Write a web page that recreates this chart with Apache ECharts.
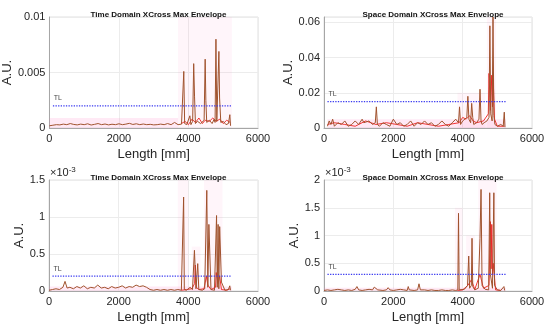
<!DOCTYPE html>
<html>
<head>
<meta charset="utf-8">
<script src="https://cdn.jsdelivr.net/npm/echarts@6/dist/echarts.min.js"></script>
<style>html,body{margin:0;padding:0;background:#fff}#c{width:550px;height:330px}</style>
</head>
<body>
<div id="c"></div>
<script>
// ---------- DATA ----------
const titles = ['Time Domain XCross Max Envelope','Space Domain XCross Max Envelope','Time Domain XCross Max Envelope','Space Domain XCross Max Envelope'];
const xTicks = [0, 2000, 4000, 6000];
const yMax = [0.01, 0.063, 1.5, 2];           // panels 3,4 in units of 1e-3
const yInterval = [0.005, 0.02, 0.5, 0.5];
const tlLevel = [0.002, 0.015, 0.2, 0.3];     // TL threshold per panel
const tlLen = [100, 5250];

// Panel 1: time domain (A.U.)
const p1Len = [0,100,200,300,400,500,600,700,800,900,1000,1100,1200,1300,1400,1500,1600,1700,1800,1900,2000,2100,2200,2300,2400,2500,2600,2700,2800,2900,3000,3100,3200,3300,3400,3500,3600,3700,3800,3840,3865,3890,3950,4040,4070,4120,4150,4175,4200,4260,4350,4450,4480,4500,4525,4600,4680,4740,4765,4790,4815,4850,4875,4895,4930,5000,5080,5150,5190,5210];
const p1Val = [0.0002,0.00025,0.0003,0.00028,0.00035,0.0003,0.0004,0.00032,0.00028,0.00035,0.0003,0.00038,0.00027,0.00033,0.0004,0.0003,0.00036,0.00028,0.00034,0.0003,0.00038,0.0003,0.00035,0.00042,0.00032,0.00038,0.0003,0.00036,0.0003,0.00033,0.00028,0.0003,0.00035,0.0003,0.0004,0.0003,0.0005,0.0003,0.00035,0.0004,0.0051,0.0004,0.0003,0.0011,0.0003,0.0006,0.0058,0.0028,0.0004,0.0006,0.0004,0.0007,0.0062,0.0025,0.0005,0.0007,0.0004,0.0008,0.0005,0.008,0.0006,0.0007,0.0069,0.0027,0.0005,0.0006,0.0003,0.0004,0.0012,0.0002];
const p1RedLen = [3800,3900,4000,4100,4200,4300,4400,4480,4600,4700,4800,4900,5000,5100,5200];
const p1RedVal = [0.0004,0.0006,0.0003,0.0008,0.0005,0.0009,0.0004,0.0007,0.0006,0.0009,0.0006,0.0008,0.0004,0.0007,0.0005];

// Panel 2: space domain (A.U.)
const p2Len = [100,150,200,250,300,400,500,600,700,800,900,1000,1100,1150,1200,1300,1400,1480,1510,1540,1600,1700,1800,1900,2000,2100,2200,2300,2400,2500,2600,2700,2800,2900,3000,3100,3200,3300,3400,3500,3600,3700,3800,3880,3910,3940,4000,4050,4120,4150,4180,4230,4260,4290,4320,4400,4470,4500,4530,4560,4620,4700,4760,4785,4810,4850,4875,4900,4930,5000,5100,5170,5200,5220];
const p2Val = [0.001,0.004,0.002,0.005,0.001,0.003,0.002,0.004,0.001,0.002,0.004,0.002,0.005,0.003,0.002,0.004,0.002,0.003,0.012,0.002,0.001,0.003,0.002,0.001,0.005,0.002,0.003,0.001,0.002,0.004,0.001,0.003,0.002,0.004,0.002,0.003,0.001,0.002,0.004,0.002,0.001,0.003,0.005,0.003,0.012,0.002,0.004,0.003,0.006,0.018,0.005,0.003,0.014,0.006,0.002,0.003,0.005,0.022,0.004,0.002,0.003,0.004,0.006,0.058,0.008,0.004,0.063,0.007,0.002,0.001,0.002,0.001,0.009,0.0005];
const p2RedLen = [100,300,600,900,1200,1500,1800,2100,2400,2700,3000,3300,3600,3900,4000,4100,4200,4300,4400,4600,4740,4760,4800,4840,4860,4880,4920,5000,5200];
const p2RedVal = [0.002,0.003,0.002,0.001,0.004,0.002,0.003,0.002,0.001,0.003,0.002,0.001,0.002,0.003,0.006,0.005,0.007,0.004,0.003,0.004,0.008,0.031,0.01,0.03,0.012,0.028,0.005,0.001,0.001];

// Panel 3: time domain (x1e-3 A.U.)
const p3Len = [0,100,200,300,400,460,520,600,700,800,900,1000,1100,1200,1300,1400,1500,1600,1700,1800,1900,2000,2100,2200,2300,2400,2500,2600,2700,2800,2900,3000,3100,3200,3300,3400,3500,3600,3700,3800,3845,3865,3885,3950,4050,4120,4150,4175,4220,4250,4270,4300,4400,4470,4500,4530,4560,4590,4650,4750,4790,4810,4830,4855,4875,4900,4950,5050,5150,5190,5210];
const p3Val = [0.01,0.02,0.03,0.02,0.05,0.13,0.04,0.05,0.03,0.06,0.04,0.07,0.03,0.05,0.04,0.08,0.04,0.05,0.03,0.06,0.04,0.05,0.07,0.04,0.06,0.05,0.08,0.06,0.07,0.05,0.02,0.01,0.02,0.01,0.02,0.01,0.02,0.01,0.02,0.01,0.02,1.27,0.02,0.01,0.05,0.02,0.02,0.55,0.03,0.02,0.37,0.02,0.01,0.03,0.02,1.36,0.05,0.9,0.02,0.01,0.03,1.02,0.05,0.9,0.03,0.87,0.12,0.01,0.02,0.07,0.01];
const p3RedLen = [3800,3950,4100,4180,4200,4230,4300,4450,4520,4560,4650,4780,4800,4850,4900,4950,5100,5200];
const p3RedVal = [0.01,0.02,0.03,0.1,0.35,0.05,0.02,0.03,0.2,0.08,0.02,0.05,0.25,0.1,0.2,0.02,0.01,0.03];

// Panel 4: space domain (x1e-3 A.U.)
const p4Len = [0,100,200,300,400,500,600,700,800,900,950,1000,1100,1200,1300,1400,1450,1500,1550,1600,1700,1800,1850,1900,2000,2100,2200,2300,2400,2430,2460,2500,2600,2700,2740,2780,2800,2900,3000,3100,3200,3300,3400,3500,3600,3700,3800,3860,3880,3900,3950,4050,4140,4175,4200,4250,4270,4290,4350,4450,4500,4530,4560,4650,4750,4780,4800,4860,4900,4920,5000,5100,5190,5210];
const p4Val = [0.01,0.02,0.01,0.02,0.03,0.02,0.01,0.02,0.01,0.03,0.08,0.02,0.01,0.02,0.03,0.02,0.07,0.1,0.02,0.03,0.01,0.02,0.06,0.02,0.01,0.02,0.03,0.02,0.01,0.08,0.02,0.03,0.01,0.02,0.13,0.02,0.01,0.02,0.01,0.02,0.01,0.01,0.02,0.01,0.01,0.02,0.01,0.02,1.4,0.02,0.01,0.03,0.1,0.63,0.05,0.1,0.95,0.08,0.02,0.05,0.95,1.83,0.1,0.03,0.02,1.77,0.3,0.05,1.77,0.1,0.02,0.01,0.08,0.01];
const p4RedLen = [3850,4000,4150,4250,4350,4500,4600,4760,4800,4820,4840,4860,4880,4950,5100];
const p4RedVal = [0.01,0.02,0.1,0.2,0.03,0.3,0.05,0.1,1.25,0.4,1.2,0.3,0.5,0.02,0.01];

// pink shading regions: [xStart, xEnd, yTop] per panel
const p1Bands = [[0,3700,0.0009],[3700,5250,0.01]];
const p2Bands = [[100,5250,0.005],[3850,4650,0.02],[4700,4960,0.063]];
const p3Bands = [[0,5250,0.06],[3700,4000,1.5],[4100,4350,0.6],[4450,4980,1.5]];
const p4Bands = [[0,5250,0.06],[3780,4000,1.5],[4100,4350,1.0],[4450,4980,2]];

// ---------- CHART ----------
const lens = [p1Len,p2Len,p3Len,p4Len], vals = [p1Val,p2Val,p3Val,p4Val];
const rLens = [p1RedLen,p2RedLen,p3RedLen,p4RedLen], rVals = [p1RedVal,p2RedVal,p3RedVal,p4RedVal];
const bands = [p1Bands,p2Bands,p3Bands,p4Bands];
const zip = (a,b) => a.map((x,i)=>[x,b[i]]);

const grids = [
  {left:49, top:17, width:209, height:111},
  {left:324, top:17, width:208, height:111},
  {left:49, top:180, width:209, height:111},
  {left:324, top:180, width:208, height:111}
];
const yNameGap = [30, 26, 21, 21];
const txt = '#262626';

const xAxes = [], yAxes = [], series = [], titleArr = [];
for (let i=0;i<4;i++){
  xAxes.push({
    type:'value', gridIndex:i, min:xTicks[0], max:xTicks[xTicks.length-1], interval:2000,
    name:'Length [mm]', nameLocation:'middle', nameGap:20,
    nameTextStyle:{color:txt, fontSize:13, fontFamily:'Liberation Sans'},
    axisLine:{lineStyle:{color:'#a6a6a6', width:1}}, axisTick:{show:false},
    axisLabel:{color:txt, fontSize:11, fontFamily:'Liberation Sans', margin:5, formatter:v=>String(v)},
    splitLine:{lineStyle:{color:'#ececec'}}
  });
  yAxes.push({
    type:'value', gridIndex:i, min:0, max:yMax[i], interval:yInterval[i],
    name:'A.U.', nameLocation:'middle', nameGap:yNameGap[i],
    nameTextStyle:{color:txt, fontSize:13, fontFamily:'Liberation Sans'},
    axisLine:{show:true, lineStyle:{color:'#a6a6a6', width:1}}, axisTick:{show:false},
    axisLabel:{color:txt, fontSize:11, fontFamily:'Liberation Sans', margin:4, showMaxLabel: i!==1, formatter:v=>String(v)},
    splitLine:{lineStyle:{color:'#ececec'}}
  });
  titleArr.push({
    text:titles[i], left:grids[i].left+grids[i].width/2, top:grids[i].top-11, textAlign:'center',
    textStyle:{fontSize:8, fontWeight:'bold', color:'#111', fontFamily:'Liberation Sans'}
  });
  // shading
  series.push({
    type:'line', xAxisIndex:i, yAxisIndex:i, data:[], silent:true,
    markArea:{silent:true,
      data: bands[i].map((b,k)=>[{coord:[b[0],0], itemStyle:{color: k===0 ? 'rgba(255,120,190,0.16)' : 'rgba(255,120,190,0.07)'}},{coord:[b[1],b[2]]}])}
  });
  // red envelope
  series.push({
    type:'line', xAxisIndex:i, yAxisIndex:i, data:zip(rLens[i], rVals[i]), showSymbol:false,
    lineStyle:{color:'rgba(240,20,20,0.85)', width:1}, z:3, silent:true
  });
  // brown envelope
  series.push({
    type:'line', xAxisIndex:i, yAxisIndex:i, data:zip(lens[i], vals[i]), showSymbol:false,
    lineStyle:{color:'#a0522d', width:1}, z:4, silent:true
  });
  // TL line
  series.push({
    type:'line', xAxisIndex:i, yAxisIndex:i, silent:true, z:5,
    data: tlLen.map(x=>[x, tlLevel[i]]),
    symbol:'circle', symbolSize:0.01, showSymbol:true,
    lineStyle:{color:'#3a3af0', width:1.3, type:[1.3,1.3]}
  });
  // TL text
  series.push({
    type:'scatter', xAxisIndex:i, yAxisIndex:i, silent:true, z:6,
    data:[[tlLen[0], tlLevel[i]]], symbolSize:0.01,
    label:{show:true, formatter:'TL', position:'top', offset:[5,1], fontSize:7, color:'#111', fontFamily:'Liberation Sans'}
  });
}

const option = {
  animation:false,
  title:titleArr,
  grid:grids.map(g=>Object.assign({show:true, borderColor:'#e0e0e0', borderWidth:1, backgroundColor:'transparent'}, g)),
  xAxis:xAxes, yAxis:yAxes, series:series,
  graphic:[
    {type:'text', left:50, top:166, style:{rich:{a:{fontSize:11, fill:txt, fontFamily:'Liberation Sans'}, b:{fontSize:8, fill:txt, fontFamily:'Liberation Sans', verticalAlign:'top', padding:[0,0,6,0]}}, text:'{a|×10}{b|-3}'}},
    {type:'text', left:325, top:166, style:{rich:{a:{fontSize:11, fill:txt, fontFamily:'Liberation Sans'}, b:{fontSize:8, fill:txt, fontFamily:'Liberation Sans', verticalAlign:'top', padding:[0,0,6,0]}}, text:'{a|×10}{b|-3}'}}
  ]
};
const chart = echarts.init(document.getElementById('c'), null, {renderer:'canvas'});
chart.setOption(option);
</script>
</body>
</html>
